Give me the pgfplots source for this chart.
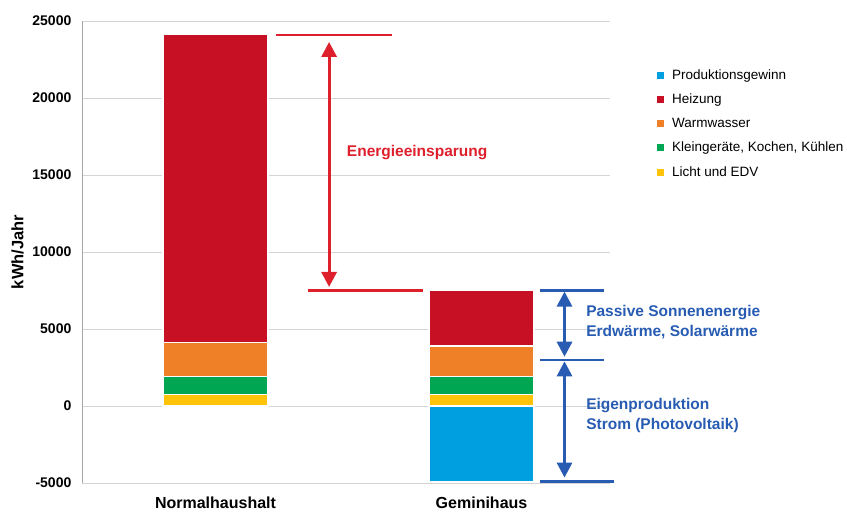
\documentclass[border=0pt]{standalone}
\usepackage{fontspec}
\setmainfont{Liberation Sans}
\usepackage{pgfplots}
\pgfplotsset{compat=1.18}
\usetikzlibrary{arrows.meta}
\definecolor{cBlue}{RGB}{0,160,224}
\definecolor{cRed}{RGB}{200,16,36}
\definecolor{cOrange}{RGB}{240,128,40}
\definecolor{cGreen}{RGB}{0,166,81}
\definecolor{cYellow}{RGB}{255,196,10}
\definecolor{aRed}{RGB}{222,32,44}
\definecolor{aBlue}{RGB}{40,92,178}
\begin{document}
\begin{tikzpicture}
\begin{axis}[
  scale only axis, width=528pt, height=462pt,
  ybar stacked, bar width=105pt,
  xmin=-0.502, xmax=1.483, ymin=-5000, ymax=25000,
  xtick={0,1}, xticklabels={Normalhaushalt,Geminihaus},
  ytick={-5000,0,5000,10000,15000,20000,25000},
  scaled y ticks=false,
  ymajorgrids, grid style={draw=black!17, line width=0.8pt},
  axis x line=bottom, axis y line=left,
  x axis line style={draw=none}, y axis line style={draw=black!35,-, line width=0.8pt},
  tick style={draw=none},
  /pgf/number format/1000 sep={},
  /pgf/number format/assume math mode=true,
  yticklabel style={font=\fontsize{14}{16}\selectfont\bfseries, xshift=-5pt},
  xticklabel style={font=\fontsize{16}{18}\selectfont\bfseries, yshift=-8.5pt},
  ylabel={kWh/Jahr},
  ylabel style={font=\fontsize{16.5}{18}\selectfont\bfseries, at={(axis description cs:-0.122,0.50)}, anchor=center},
  clip=false,
  sq legend/.style={legend image code/.code={\fill[##1] (0pt,-3.5pt) rectangle (7pt,3.5pt); \path (13pt,0pt);}},
  legend style={draw=none, fill=none, at={(1.089,0.899)}, anchor=north west,
    font=\fontsize{13.5}{16}\selectfont, row sep=9pt, inner sep=0pt},
  legend cell align=left,
]
\addplot[fill=cBlue, draw=white, line width=1.2pt, forget plot] coordinates {(0,0) (1,-4900)};
\addplot[fill=cYellow, draw=white, line width=1.2pt, forget plot] coordinates {(0,750) (1,750)};
\addplot[fill=cGreen, draw=white, line width=1.2pt, forget plot] coordinates {(0,1150) (1,1150)};
\addplot[fill=cOrange, draw=white, line width=1.2pt, forget plot] coordinates {(0,2200) (1,2000)};
\addplot[fill=cRed, draw=white, line width=1.2pt, forget plot] coordinates {(0,20000) (1,3600)};

\addlegendimage{fill=cBlue, draw=none, sq legend}
\addlegendentry{Produktionsgewinn}
\addlegendimage{fill=cRed, draw=none, sq legend}
\addlegendentry{Heizung}
\addlegendimage{fill=cOrange, draw=none, sq legend}
\addlegendentry{Warmwasser}
\addlegendimage{fill=cGreen, draw=none, sq legend}
\addlegendentry{Kleingeräte, Kochen, Kühlen}
\addlegendimage{fill=cYellow, draw=none, sq legend}
\addlegendentry{Licht und EDV}

% red annotation
\draw[aRed, line width=2.2pt] (axis cs:0.227,24100) -- (axis cs:0.665,24100);
\draw[aRed, line width=2.2pt] (axis cs:0.348,7500) -- (axis cs:0.780,7500);
\draw[aRed, line width=3pt, {Triangle[width=15pt,length=15pt]}-{Triangle[width=15pt,length=15pt]}] (axis cs:0.427,23640) -- (axis cs:0.427,7730);
\node[aRed, font=\fontsize{15.5}{18}\selectfont\bfseries] at (axis cs:0.758,16490) {Energieeinsparung};

% blue annotation
\draw[aBlue, line width=2.2pt] (axis cs:1.220,7500) -- (axis cs:1.460,7500);
\draw[aBlue, line width=2.2pt] (axis cs:1.220,3000) -- (axis cs:1.460,3000);
\draw[aBlue, line width=2.2pt] (axis cs:1.220,-4900) -- (axis cs:1.498,-4900);
\draw[aBlue, line width=3pt, {Triangle[width=15pt,length=15pt]}-{Triangle[width=15pt,length=15pt]}] (axis cs:1.312,7430) -- (axis cs:1.312,3200);
\draw[aBlue, line width=3pt, {Triangle[width=15pt,length=15pt]}-{Triangle[width=15pt,length=15pt]}] (axis cs:1.312,2900) -- (axis cs:1.312,-4650);
\node[aBlue, font=\fontsize{15.5}{20}\selectfont\bfseries, anchor=west, align=left, inner sep=0pt] at (axis cs:1.393,5455) {Passive Sonnenenergie\\Erdwärme, Solarwärme};
\node[aBlue, font=\fontsize{15.5}{20}\selectfont\bfseries, anchor=west, align=left, inner sep=0pt] at (axis cs:1.393,-620) {Eigenproduktion\\Strom (Photovoltaik)};
\end{axis}
\pgfresetboundingbox
\path (-82pt,-29pt) rectangle (765pt,483pt);
\end{tikzpicture}
\end{document}
